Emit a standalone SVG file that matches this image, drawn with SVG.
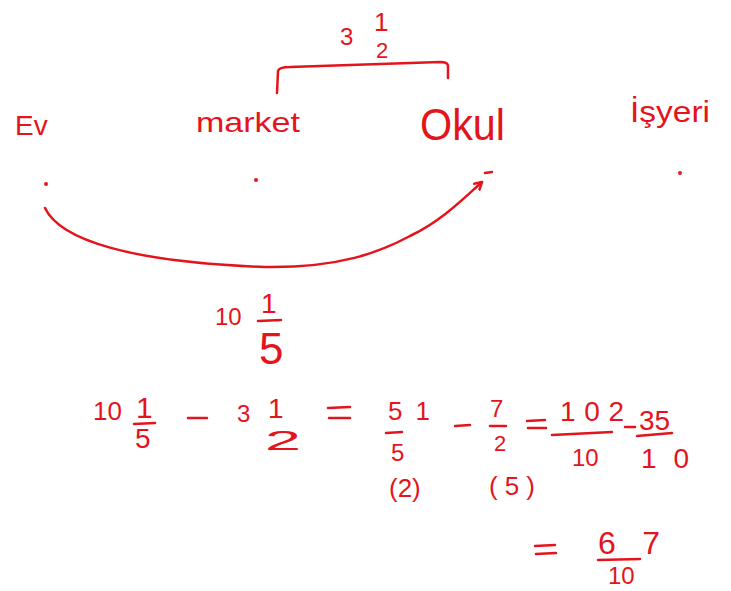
<svg xmlns="http://www.w3.org/2000/svg" width="731" height="591" viewBox="0 0 731 591">
<style>
text{font-family:"Liberation Sans",Arial,sans-serif;fill:#e4141c}
.ln{stroke:#e4141c;stroke-width:2.5;fill:none;stroke-linecap:round;stroke-linejoin:round}
.dot{fill:#e4141c}
</style>
<defs>
<marker id="ah" markerWidth="12" markerHeight="12" refX="8" refY="5" orient="auto" markerUnits="userSpaceOnUse">
<path d="M1,1 L8,5 L1,9" class="ln" stroke-width="2"/>
</marker>
</defs>
<rect width="731" height="591" fill="#fff"/>
<g id="node-ev"><text x="15" y="135" font-size="28">Ev</text><circle class="dot" cx="46" cy="184" r="2"/></g>
<g id="node-market"><text x="196" y="132" font-size="28" textLength="104" lengthAdjust="spacingAndGlyphs">market</text><circle class="dot" cx="256" cy="180" r="2"/></g>
<g id="node-okul"><text x="420" y="140" font-size="44" textLength="85" lengthAdjust="spacingAndGlyphs">Okul</text><path class="ln" d="M485,173 L492,172"/></g>
<g id="node-isyeri"><text x="630" y="122" font-size="30" textLength="80" lengthAdjust="spacingAndGlyphs">İşyeri</text><circle class="dot" cx="680" cy="173" r="2"/></g>
<g id="connectors">
<path class="ln" d="M277,93 L278,71 Q279,67 290,67 L440,62 Q448,62 448,66 L448,78"/>
<path class="ln" marker-end="url(#ah)" d="M45,208 C60,240 130,262 265,267 C340,268 380,252 410,236 C440,222 462,200 482,182"/>
</g>
<g id="label-top">
<text x="340" y="45" font-size="24">3</text>
<text x="374" y="31" font-size="26">1</text>
<text x="376" y="58" font-size="22">2</text>
</g>
<g id="label-bottom">
<text x="215" y="325" font-size="24">10</text>
<text x="261" y="313" font-size="28">1</text>
<path class="ln" d="M258,321 L281,320"/>
<text x="259" y="364" font-size="44">5</text>
</g>
<g id="equation">
<text x="93" y="420" font-size="26">10</text>
<text x="136" y="418" font-size="30">1</text>
<path class="ln" d="M134,424 L155,423"/>
<text x="135" y="448" font-size="28">5</text>
<path class="ln" d="M188,418 L207,418"/>
<text x="237" y="422" font-size="24">3</text>
<text x="268" y="418" font-size="28">1</text>
<text x="265" y="450" font-size="28" textLength="36" lengthAdjust="spacingAndGlyphs">2</text>
<path class="ln" d="M328,408 L350,407 M329,418 L350,418"/>
<text x="388" y="420" font-size="26" textLength="42" lengthAdjust="spacing">51</text>
<path class="ln" d="M386,433 L402,432"/>
<text x="391" y="461" font-size="24">5</text>
<path class="ln" d="M455,426 L470,425"/>
<text x="490" y="417" font-size="24">7</text>
<path class="ln" d="M490,426 L506,426"/>
<text x="494" y="451" font-size="22">2</text>
<path class="ln" d="M527,421 L545,420 M528,428 L546,428"/>
<text x="560" y="421" font-size="28" textLength="64" lengthAdjust="spacing">102</text>
<path class="ln" d="M552,435 L612,432"/>
<text x="572" y="466" font-size="24">10</text>
<path class="ln" d="M625,427 L635,427"/>
<text x="639" y="430" font-size="28">35</text>
<path class="ln" d="M637,436 L672,433"/>
<text x="641" y="468" font-size="28" textLength="48" lengthAdjust="spacing">10</text>
<text x="389" y="497" font-size="26">(2)</text>
<text x="489" y="495" font-size="26" textLength="46" lengthAdjust="spacing">(5)</text>
<path class="ln" d="M535,546 L555,545 M536,554 L556,553"/>
<text x="598" y="554" font-size="32" textLength="62" lengthAdjust="spacing">67</text>
<path class="ln" d="M598,560 L640,559"/>
<text x="608" y="584" font-size="24">10</text>
</g>
</svg>
